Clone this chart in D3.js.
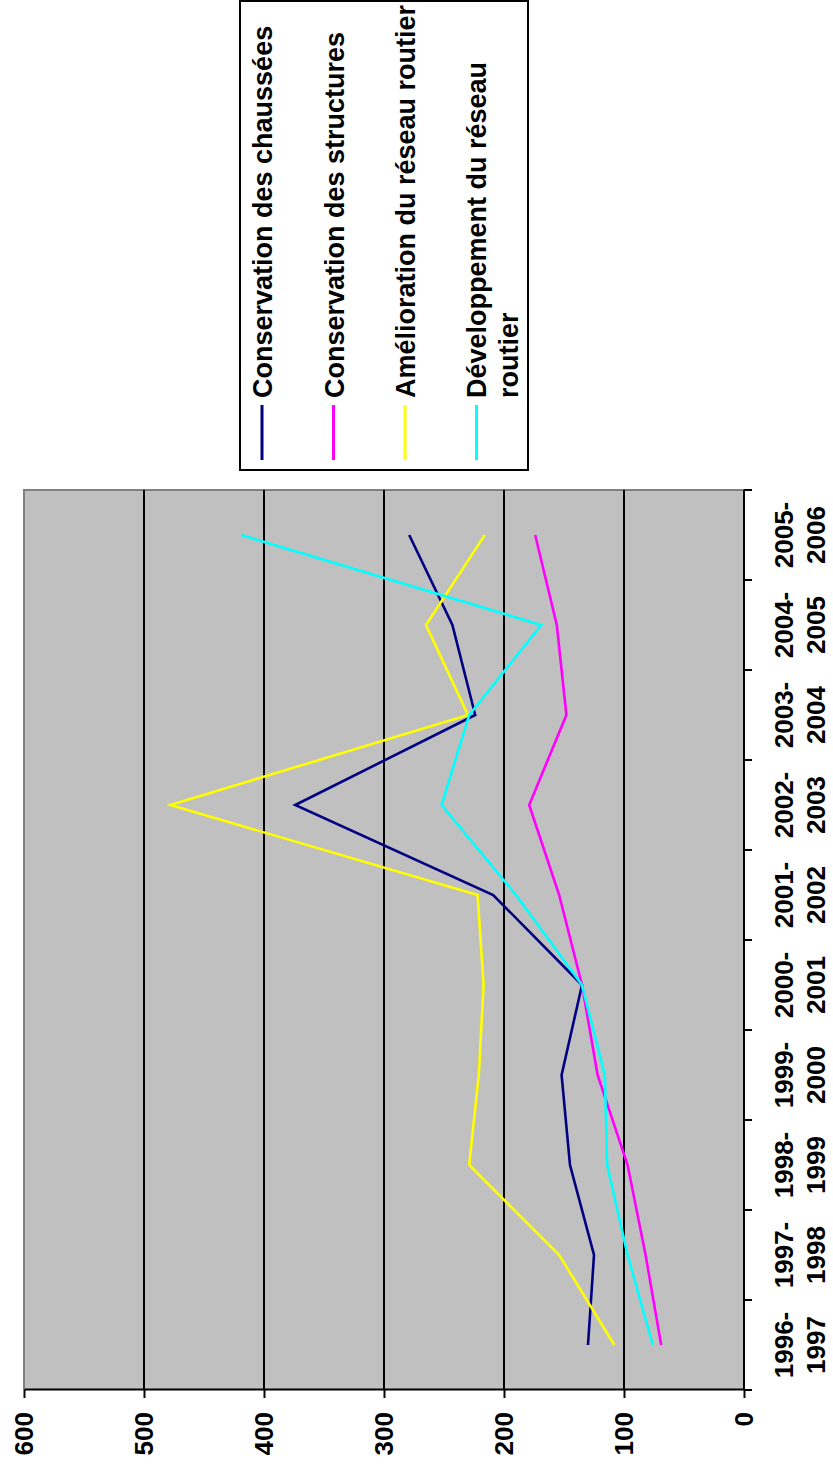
<!DOCTYPE html>
<html>
<head>
<meta charset="utf-8">
<script src="https://cdn.jsdelivr.net/npm/d3@7"></script>
<style>
  html, body { margin: 0; padding: 0; background: #fff; }
  svg { display: block; }
  text { font-family: "Liberation Sans", Arial, sans-serif; font-weight: bold; fill: #000; }
</style>
</head>
<body>
<svg id="chart" width="833" height="1467"></svg>
<script>
// Fiscal years (category axis)
const categories = ["1996-1997", "1997-1998", "1998-1999", "1999-2000", "2000-2001",
                    "2001-2002", "2002-2003", "2003-2004", "2004-2005", "2005-2006"];

// Series values
const chaussees     = [130, 125, 145, 152, 135, 209, 374, 224, 243, 279];
const structures    = [69, 82, 97, 122, 135, 154, 179, 148, 156, 174];
const amelioration  = [108, 154, 229, 221, 217, 222, 478, 230, 265, 216];
const developpement = [76, 97, 114, 116, 135, 190, 252, 229, 169, 419];

// Value axis ticks
const valueTicks = [0, 100, 200, 300, 400, 500, 600];

const seriesNames = ["Conservation des chaussées", "Conservation des structures",
                     "Amélioration du réseau routier", "Développement du réseau routier"];
const seriesColors = ["#000080", "#FF00FF", "#FFFF00", "#00FFFF"];
const seriesValues = [chaussees, structures, amelioration, developpement];

const W = 833, H = 1467;
const svg = d3.select("#chart");

// The whole chart is laid out normally, then turned a quarter turn counter-clockwise.
const g = svg.append("g").attr("transform", `translate(0,${H}) rotate(-90)`);

const plot = { left: 77, right: 977, top: 24, bottom: 744 };

const x = d3.scaleBand().domain(categories).range([plot.left, plot.right]);
const y = d3.scaleLinear().domain([0, 600]).range([plot.bottom, plot.top]);

// Plot area background
g.append("rect")
  .attr("x", plot.left).attr("y", plot.top)
  .attr("width", plot.right - plot.left).attr("height", plot.bottom - plot.top)
  .attr("fill", "#C0C0C0");

// Plot area border (top and right edges)
g.append("path")
  .attr("d", `M${plot.left},${plot.top}H${plot.right}V${plot.bottom}`)
  .attr("fill", "none").attr("stroke", "#808080").attr("stroke-width", 2);

// Major gridlines
g.append("g").selectAll("line")
  .data(valueTicks.filter(v => v > 0 && v < 600))
  .join("line")
  .attr("x1", plot.left).attr("x2", plot.right)
  .attr("y1", d => y(d)).attr("y2", d => y(d))
  .attr("stroke", "#000").attr("stroke-width", 2);

// Value axis
const yAxis = g.append("g")
  .attr("transform", `translate(${plot.left},0)`)
  .call(d3.axisLeft(y).tickValues(valueTicks).tickSize(8).tickPadding(14).tickSizeOuter(0));
yAxis.select(".domain").attr("stroke", "#000").attr("stroke-width", 2);
yAxis.selectAll(".tick line").attr("stroke", "#000").attr("stroke-width", 2);
yAxis.selectAll(".tick text")
  .style("font-family", "'Liberation Sans', Arial, sans-serif")
  .style("font-weight", "bold").style("font-size", "26px").attr("fill", "#000");

// Category axis: line, ticks at band boundaries, two-line labels at band centres
const xAxis = g.append("g");
xAxis.append("line")
  .attr("x1", plot.left).attr("x2", plot.right)
  .attr("y1", plot.bottom).attr("y2", plot.bottom)
  .attr("stroke", "#000").attr("stroke-width", 2);
const boundaries = categories.map(c => x(c)).concat([x(categories[categories.length - 1]) + x.bandwidth()]);
xAxis.selectAll("line.tick")
  .data(boundaries)
  .join("line").attr("class", "tick")
  .attr("x1", d => d).attr("x2", d => d)
  .attr("y1", plot.bottom).attr("y2", plot.bottom + 8)
  .attr("stroke", "#000").attr("stroke-width", 2);
const catLabels = xAxis.selectAll("text")
  .data(categories)
  .join("text")
  .attr("text-anchor", "middle")
  .style("font-size", "26px");
catLabels.append("tspan")
  .attr("x", d => x(d) + x.bandwidth() / 2).attr("y", 793)
  .text(d => d.split("-")[0] + "-");
catLabels.append("tspan")
  .attr("x", d => x(d) + x.bandwidth() / 2).attr("y", 825)
  .text(d => d.split("-")[1]);

// Series lines
const line = d3.line()
  .x((d, i) => x(categories[i]) + x.bandwidth() / 2)
  .y(d => y(d));
g.append("g").selectAll("path")
  .data(seriesValues)
  .join("path")
  .attr("d", d => line(d))
  .attr("fill", "none")
  .attr("stroke", (d, i) => seriesColors[i])
  .attr("stroke-width", 2.6)
  .attr("stroke-linejoin", "miter");

// Legend
const legend = { left: 997, right: 1466, top: 240, bottom: 528 };
const lg = g.append("g");
lg.append("rect")
  .attr("x", legend.left).attr("y", legend.top)
  .attr("width", legend.right - legend.left).attr("height", legend.bottom - legend.top)
  .attr("fill", "#fff").attr("stroke", "#000").attr("stroke-width", 2);

const legendLines = [
  ["Conservation des chaussées"],
  ["Conservation des structures"],
  ["Amélioration du réseau routier"],
  ["Développement du réseau", "routier"]
];
const entryY = [262, 333.5, 405, 476.5];

const entries = lg.selectAll("g.entry")
  .data(seriesNames)
  .join("g").attr("class", "entry");
entries.append("line")
  .attr("x1", 1007).attr("x2", 1062)
  .attr("y1", (d, i) => entryY[i]).attr("y2", (d, i) => entryY[i])
  .attr("stroke", (d, i) => seriesColors[i])
  .attr("stroke-width", 3);
entries.each(function(d, i) {
  const t = d3.select(this).append("text").style("font-size", "27px");
  const parts = legendLines[i];
  const first = parts.length === 1 ? entryY[i] + 10 : entryY[i] + 9;
  parts.forEach((p, k) => {
    t.append("tspan").attr("x", 1069).attr("y", first + k * 32).text(p);
  });
});
</script>
</body>
</html>
